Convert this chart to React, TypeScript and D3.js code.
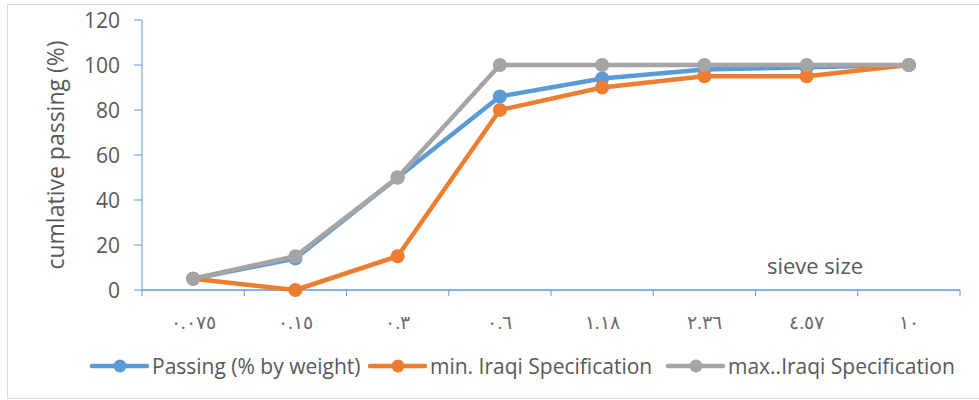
import React from "react";
import * as d3 from "d3";

const categories = ["٠.٠٧٥", "٠.١٥", "٠.٣", "٠.٦", "١.١٨", "٢.٣٦", "٤.٥٧", "١٠"];
const passing = [5, 14, 50, 86, 94, 98, 99, 100];
const minSpec = [5, 0, 15, 80, 90, 95, 95, 100];
const maxSpec = [5, 15, 50, 100, 100, 100, 100, 100];
const yTicks = [0, 20, 40, 60, 80, 100, 120];
const seriesNames = ["Passing (% by weight)", "min. Iraqi Specification", "max..Iraqi Specification"];
const colors = ["#5B9BD5", "#ED7D31", "#A5A5A5"];

export default function App() {
  const W = 979, H = 400;
  const left = 142, right = 960, top = 20, bottom = 290;
  const x = d3.scaleBand<string>().domain(categories).range([left, right]);
  const y = d3.scaleLinear().domain([0, 120]).range([bottom, top]);
  const cx = (c: string) => (x(c) ?? 0) + x.bandwidth() / 2;
  const line = d3.line<number>().x((_, i) => cx(categories[i])).y((v) => y(v));
  const series = [passing, minSpec, maxSpec];
  const font = "'Open Sans', Lato, sans-serif";
  const textColor = "#595959";
  const axisColor = "#5B9BD5";
  const legendX = [92, 370, 668];

  return (
    <svg width={W} height={H} style={{ position: "absolute", left: 0, top: 0 }} fontFamily={font}>
      <rect x={0} y={0} width={W} height={H} fill="#fff" />
      <rect x={7.5} y={4.5} width={980} height={394} fill="none" stroke="#D9D9D9" strokeWidth={1} />
      {/* y axis */}
      <line x1={left} x2={left} y1={top} y2={bottom} stroke={axisColor} strokeWidth={1} />
      {yTicks.map((t) => (
        <g key={t}>
          <line x1={left - 8} x2={left} y1={y(t)} y2={y(t)} stroke={axisColor} />
          <text x={left - 22} y={y(t)} dy="0.36em" textAnchor="end" fontSize={21} fill={textColor}>
            {t}
          </text>
        </g>
      ))}
      {/* x axis */}
      <line x1={left} x2={right} y1={bottom} y2={bottom} stroke={axisColor} strokeWidth={1.5} />
      {categories.map((c, i) => (
        <line key={"t" + i} x1={x(c)} x2={x(c)} y1={bottom} y2={bottom + 6} stroke={axisColor} />
      ))}
      <line x1={right} x2={right} y1={bottom} y2={bottom + 6} stroke={axisColor} />
      {categories.map((c, i) => (
        <text key={"l" + i} x={cx(c)} y={322} dy="0.35em" textAnchor="middle" fontSize={19} letterSpacing={2} fill="#6a6a6a">
          {c}
        </text>
      ))}
      <text
        transform={`translate(64,${(top + bottom) / 2}) rotate(-90)`}
        textAnchor="middle"
        fontSize={23}
        fill={textColor}
      >
        cumlative passing (%)
      </text>
      <text x={815} y={274} textAnchor="middle" fontSize={22} fill={textColor}>
        sieve size
      </text>
      {series.map((s, k) => (
        <g key={k}>
          <path d={line(s) ?? ""} fill="none" stroke={colors[k]} strokeWidth={4.5} strokeLinejoin="round" />
          {s.map((v, i) => (
            <circle key={i} cx={cx(categories[i])} cy={y(v)} r={7} fill={colors[k]} />
          ))}
        </g>
      ))}
      {seriesNames.map((n, k) => (
        <g key={n}>
          <line x1={legendX[k]} x2={legendX[k] + 55} y1={366} y2={366} stroke={colors[k]} strokeWidth={4.5} strokeLinecap="round" />
          <circle cx={legendX[k] + 28} cy={366} r={6.5} fill={colors[k]} />
          <text x={legendX[k] + 60} y={366} dy="0.36em" fontSize={21} fill={textColor}>
            {n}
          </text>
        </g>
      ))}
    </svg>
  );
}
